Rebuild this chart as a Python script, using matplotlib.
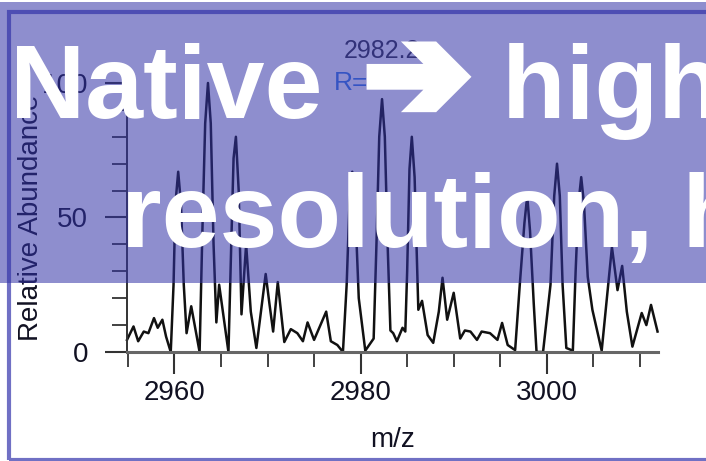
import matplotlib
matplotlib.use("Agg")
import matplotlib.pyplot as plt
import matplotlib.patheffects as pe
from matplotlib.patches import Rectangle
from matplotlib.ticker import MultipleLocator

# spectrum (m/z, relative abundance)
mz = [2954.9, 2955.6, 2956.1, 2956.7, 2957.2, 2957.8, 2958.2, 2958.7, 2959.1, 2959.6,
      2959.9, 2960.1, 2960.4, 2960.7, 2961.0, 2961.3, 2961.8, 2962.7, 2963.0, 2963.3,
      2963.6, 2963.9, 2964.2, 2964.5, 2964.8, 2965.8, 2966.1, 2966.35, 2966.6, 2966.9,
      2967.2, 2967.7, 2968.2, 2968.8, 2969.4, 2969.8, 2970.2, 2970.6, 2971.1, 2971.8,
      2972.5, 2973.2, 2973.8, 2974.3, 2975.0, 2976.3, 2976.8, 2977.5, 2978.1, 2978.5,
      2978.8, 2979.1, 2979.4, 2979.8, 2980.5, 2981.4, 2981.7, 2982.0, 2982.3, 2982.6,
      2982.9, 2983.2, 2983.5, 2983.9, 2984.5, 2984.8, 2985.0, 2985.25, 2985.5, 2985.8,
      2986.2, 2986.6, 2987.2, 2987.8, 2988.4, 2988.8, 2989.3, 2990.0, 2990.7, 2991.2,
      2991.8, 2992.5, 2993.0, 2993.9, 2994.7, 2995.2, 2995.8, 2996.6, 2997.1, 2997.6,
      2997.9, 2998.2, 2998.6, 2998.9, 2999.6, 3000.4, 3000.8, 3001.1, 3001.4, 3001.7,
      3002.1, 3002.8, 3003.1, 3003.4, 3003.7, 3004.0, 3004.4, 3004.9, 3005.9, 3006.6,
      3007.0, 3007.6, 3008.1, 3008.6, 3009.2, 3010.2, 3010.7, 3011.2, 3011.9]
abundance = [4.5, 9.5, 4, 7.6, 7, 12.6, 9, 12, 5.7, 0,
             25, 55, 67, 55, 25, 7, 17, 0, 45, 85,
             100, 85, 40, 11, 25, 0, 40, 72, 80, 60,
             14, 40, 15, 1.5, 18, 29, 18, 7.6, 26, 3.7,
             8.5, 7, 4, 11, 4.5, 15, 4, 2.6, 0, 25,
             55, 67, 55, 20, 0.5, 5, 40, 80, 94, 80,
             40, 8, 7, 4, 9, 7.6, 30, 68, 80, 65,
             15.7, 19, 6.3, 3.4, 15, 27.6, 12, 22, 5, 8,
             7.6, 4.5, 7.6, 7, 4.5, 10.8, 2.6, 0.7, 25, 48,
             58, 45, 18, 0, 0, 25, 58, 70, 58, 25,
             1.5, 0.5, 30, 55, 65, 55, 28, 15.7, 0.5, 25,
             39, 23, 32, 15, 2, 14.5, 10, 17.5, 7.6]

x_major = [2960, 2980, 3000]
y_major = [0, 50, 100]
peak_mz, peak_label = 2982.3, "2982.2"

plt.rcParams["font.family"] = ["Liberation Sans", "DejaVu Sans"]

W, H = 706, 461
fig = plt.figure(figsize=(W / 100, H / 100), dpi=100)
ax = fig.add_axes([127 / W, 1 - 352 / H, (658 - 127) / W, (352 - 77.6) / H])
ax.plot(mz, abundance, color="#111111", lw=1.8, clip_on=False)
ax.set_xlim(2954.9, 3011.95)
ax.set_ylim(0, 102)

ax.set_xticks(x_major)
ax.set_yticks(y_major)
ax.xaxis.set_minor_locator(MultipleLocator(5))
ax.yaxis.set_minor_locator(MultipleLocator(10))
for s in ["top", "right"]:
    ax.spines[s].set_visible(False)
ax.spines["left"].set_color("#333333")
ax.spines["left"].set_linewidth(1.4)
ax.spines["bottom"].set_color("#666666")
ax.spines["bottom"].set_linewidth(2.2)
ax.tick_params(which="major", length=16, width=1.5, color="#333333", labelsize=20, labelcolor="#111122")
ax.tick_params(which="minor", length=11, width=1.3, color="#333333")
ax.tick_params(axis="y", which="major", pad=12)
ax.tick_params(axis="x", which="major", pad=4)

ax.set_xlabel("m/z", fontsize=20, color="#111122")
ax.xaxis.set_label_coords(0.5, -0.272)
ax.set_ylabel("Relative Abundance", fontsize=20, color="#111122")
ax.yaxis.set_label_coords(-0.157, 0.49)

ax.text(peak_mz, 109.3, peak_label, fontsize=18, color="#333344", ha="center", va="baseline", clip_on=False)
ax.text(2977.1, 97.4, "R=", fontsize=19, color="#3a7fe8", ha="left", va="baseline", clip_on=False)

# frame of the slide picture
fig.patches.append(Rectangle((9 / W, 1 - 459.5 / H), 1.0, (459.5 - 12.5) / H, transform=fig.transFigure,
                             fill=False, edgecolor="#7070c4", lw=3, zorder=4))
# translucent banner
fig.patches.append(Rectangle((0, 1 - 283 / H), 1.0, (283 - 2) / H, transform=fig.transFigure,
                             facecolor=(50 / 255, 50 / 255, 166 / 255), alpha=0.55, lw=0, zorder=5))

kw = dict(fontweight="bold", color="white", va="baseline", ha="left", zorder=6)
fig.text(10 / W, 1 - 118 / H, "Native", fontsize=75, **kw)
fig.text(365 / W, 1 - 116 / H, "\u2794", fontsize=90, family=["DejaVu Sans"],
         path_effects=[pe.withStroke(linewidth=8, foreground="white", joinstyle="miter")], **kw)
fig.text(502 / W, 1 - 118 / H, "high mass", fontsize=75, **kw)
fig.text(121 / W, 1 - 247 / H, "resolution, high m/z", fontsize=75, **kw)

fig.savefig("out.png", dpi=100)
